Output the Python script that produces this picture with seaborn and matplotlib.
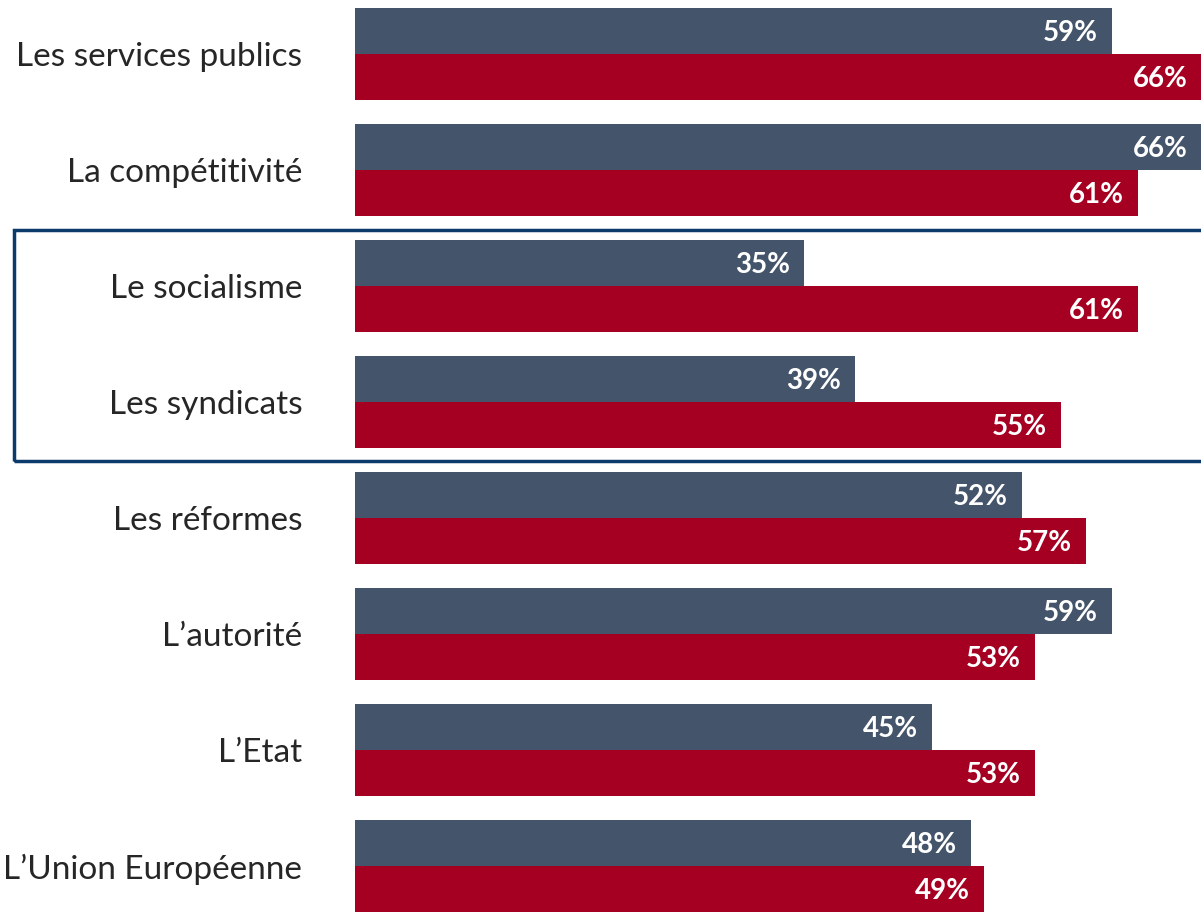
import numpy as np
import pandas as pd
import matplotlib
matplotlib.use("Agg")
import matplotlib.pyplot as plt
import seaborn as sns
from matplotlib.patches import Rectangle

categories = ["Les services publics", "La compétitivité", "Le socialisme", "Les syndicats",
              "Les réformes", "L’autorité", "L’Etat", "L’Union Européenne"]
serie_1 = [59, 66, 35, 39, 52, 59, 45, 48]
serie_2 = [66, 61, 61, 55, 57, 53, 53, 49]
series = ["Série 1", "Série 2"]

df = pd.DataFrame({
    "categorie": categories * 2,
    "valeur": serie_1 + serie_2,
    "serie": [series[0]] * len(categories) + [series[1]] * len(categories),
})

sns.set_style("white")
plt.rcParams['font.family'] = ['Lato', 'DejaVu Sans']

fig = plt.figure(figsize=(12.01, 9.13), dpi=100)
ax = fig.add_axes([355 / 1201, 0, 1 - 355 / 1201, 1])

sns.barplot(data=df, y="categorie", x="valeur", hue="serie", orient="h",
            palette=["#44546A", "#A50021"], width=0.793, gap=0, saturation=1,
            edgecolor="none", legend=False, ax=ax)

for c in ax.containers:
    texts = ax.bar_label(c, labels=[f"{v:.0f}%" for v in c.datavalues], padding=-10,
                         color="white", fontweight="bold", fontsize=20)
    for t in texts:
        t.set_horizontalalignment("right")
        t.set_annotation_clip(False)
        x, y = t.xyann
        t.xyann = (x, y - 1.5)

ax.set_xlim(0, 65.95)
ax.set_ylim(7.405, -0.4655)
ax.set_xlabel("")
ax.set_ylabel("")
ax.set_xticks([])
ax.tick_params(axis="y", length=0, pad=38, labelsize=24)
sns.despine(ax=ax, left=True, bottom=True, top=True, right=True)

# cadre autour de socialisme / syndicats
box = Rectangle((14 / 1201, 1 - 461 / 913), 1.2, (461 - 230) / 913, transform=fig.transFigure,
                fill=False, edgecolor="#0B3A6B", linewidth=2.5, clip_on=False)
fig.patches.append(box)

fig.savefig("out.png", dpi=100)
